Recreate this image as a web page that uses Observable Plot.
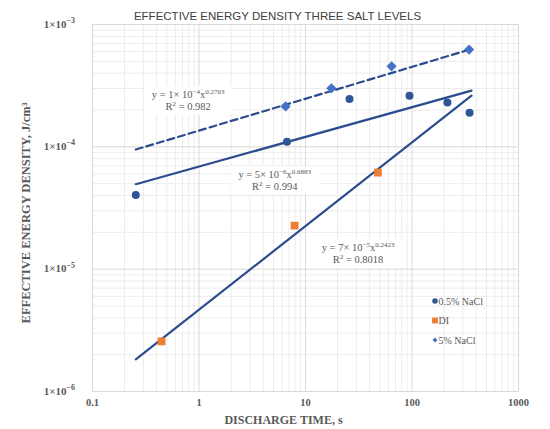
<!DOCTYPE html>
<html><head><meta charset="utf-8">
<script src="https://cdn.jsdelivr.net/npm/d3@7"></script>
<script src="https://cdn.jsdelivr.net/npm/@observablehq/plot@0.6"></script>
<style>body{margin:0;background:#fff;} svg{display:block}</style>
</head><body><div id="chart"></div>
<script>
// ---- text ----
const title = "EFFECTIVE ENERGY DENSITY THREE SALT LEVELS";
const xLabel = "DISCHARGE TIME, s";
const yLabel = "EFFECTIVE ENERGY DENSITY, J/cm³";
const xTicks = [0.1, 1, 10, 100, 1000];
const xTickLabels = ["0.1", "1", "10", "100", "1000"];
const yTicks = [1e-6, 1e-5, 1e-4, 1e-3];
const yTickBase = ["1×10", "1×10", "1×10", "1×10"];
const yTickExp = ["−6", "−5", "−4", "−3"];
const seriesNames = ["0.5% NaCl", "DI", "5% NaCl"];

// ---- data ----
const lowTime = [0.255, 6.7, 25.9, 94.8, 215, 347];
const lowEnergy = [4.04e-5, 1.10e-4, 2.46e-4, 2.62e-4, 2.30e-4, 1.90e-4];
const diTime = [0.445, 7.9, 47.8];
const diEnergy = [2.57e-6, 2.27e-5, 6.16e-5];
const highTime = [6.5, 17.5, 64.3, 344];
const highEnergy = [2.14e-4, 3.01e-4, 4.55e-4, 6.24e-4];

// trend line endpoints
const fitTime = [0.255, 362];
const fitLow = [4.95e-5, 2.88e-4];
const fitDI = [1.83e-6, 2.62e-4];
const fitHigh = [9.5e-5, 6.3e-4];

// trendline equations
const eqCoef = ["1", "5", "7"];
const eqExp = ["−4", "−6", "−5"];
const eqPow = ["0.2703", "0.6883", "0.2423"];
const eqR2 = ["0.982", "0.994", "0.8018"];
const eqAtTime = [0.80, 5.2, 31.5];
const eqAtEnergy = [2.38e-4, 5.3e-5, 1.33e-5];

const navy = "#2b4d8e";
const cLow = "#2f5597";
const cDI = "#ed7d31";
const cHigh = "#4472c4";
const txt = "#595959";
const serif = "'Liberation Serif', 'DejaVu Serif', serif";

const toRows = (t, v) => t.map((d, i) => ({t: d, v: v[i]}));
const low = toRows(lowTime, lowEnergy);
const di = toRows(diTime, diEnergy);
const high = toRows(highTime, highEnergy);

const minorX = xTicks.slice(0, -1).flatMap(d => d3.range(2, 10).map(k => d * k));
const minorY = yTicks.slice(0, -1).flatMap(d => d3.range(2, 10).map(k => d * k));

function yTickText(index, {y}, values, dims) {
  const g = d3.create("svg:g")
    .attr("font-family", serif).attr("font-weight", "bold")
    .attr("fill", txt).attr("text-anchor", "end");
  yTicks.forEach((v, i) => {
    const t = g.append("text").attr("x", dims.marginLeft - 17).attr("y", y(v)).attr("dy", "0.32em").attr("font-size", 11);
    t.append("tspan").text(yTickBase[i]);
    t.append("tspan").attr("font-size", 8).attr("dy", "-0.55em").text(yTickExp[i]);
  });
  return g.node();
}

function equations(index, {x, y}) {
  const g = d3.create("svg:g")
    .attr("font-family", serif)
    .attr("font-size", 10.5)
    .attr("fill", txt);
  eqCoef.forEach((c, i) => {
    const cx = x(eqAtTime[i]), cy = y(eqAtEnergy[i]);
    g.append("rect").attr("x", cx - 44).attr("y", cy - 14).attr("width", 88).attr("height", 28).attr("fill", "#fff");
    const t1 = g.append("text").attr("x", cx).attr("y", cy - 2.5).attr("text-anchor", "middle");
    t1.append("tspan").text(`y = ${c}× 10`);
    t1.append("tspan").attr("font-size", 7).attr("dy", -4).text(eqExp[i]);
    t1.append("tspan").attr("dy", 4).text("x");
    t1.append("tspan").attr("font-size", 7).attr("dy", -4).text(eqPow[i]);
    const t2 = g.append("text").attr("x", cx).attr("y", cy + 9.5).attr("text-anchor", "middle");
    t2.append("tspan").text("R");
    t2.append("tspan").attr("font-size", 7).attr("dy", -4).text("2");
    t2.append("tspan").attr("dy", 4).text(` = ${eqR2[i]}`);
  });
  return g.node();
}

function legend() {
  const g = d3.create("svg:g")
    .attr("font-family", serif)
    .attr("font-size", 10)
    .attr("fill", txt)
    .attr("text-anchor", "start");
  const sym = [d3.symbolCircle, d3.symbolSquare, d3.symbolDiamond2];
  const sizes = [24, 34, 16];
  const cols = [cLow, cDI, cHigh];
  seriesNames.forEach((name, i) => {
    const yy = 301 + i * 19.5;
    g.append("path").attr("d", d3.symbol(sym[i], sizes[i])()).attr("transform", `translate(435,${yy})`).attr("fill", cols[i]);
    g.append("text").attr("x", 438.5).attr("y", yy).attr("dy", "0.35em").text(name);
  });
  return g.node();
}

const chart = Plot.plot({
  width: 550, height: 429,
  marginLeft: 92, marginRight: 32, marginTop: 24, marginBottom: 38,
  style: {fontFamily: serif, fontSize: "10px", color: txt, background: "#fff"},
  x: {type: "log", domain: [0.1, 1000]},
  y: {type: "log", domain: [1e-6, 1e-3]},
  marks: [
    Plot.gridX(minorX, {stroke: "#ececec", strokeOpacity: 1}),
    Plot.gridY(minorY, {stroke: "#ececec", strokeOpacity: 1}),
    Plot.gridX(xTicks, {stroke: "#d9d9d9", strokeOpacity: 1}),
    Plot.gridY(yTicks, {stroke: "#d9d9d9", strokeOpacity: 1}),
    Plot.frame({stroke: "#d9d9d9"}),
    Plot.axisX({ticks: xTicks, tickFormat: d => xTickLabels[xTicks.indexOf(d)], tickSize: 0, tickPadding: 7, label: null, fontWeight: "bold", fontSize: 10.5, fill: txt}),
    Plot.axisY({ticks: yTicks, tickFormat: () => "", tickSize: 0, label: null}),
    yTickText,
    equations,
    Plot.line(toRows(fitTime, fitHigh), {x: "t", y: "v", stroke: navy, strokeWidth: 2.2, strokeDasharray: "7,4"}),
    Plot.line(toRows(fitTime, fitLow), {x: "t", y: "v", stroke: navy, strokeWidth: 2.2}),
    Plot.line(toRows(fitTime, fitDI), {x: "t", y: "v", stroke: navy, strokeWidth: 2.2}),
    Plot.dot(low, {x: "t", y: "v", r: 4, fill: cLow, symbol: "circle"}),
    Plot.dot(di, {x: "t", y: "v", r: 4.4, fill: cDI, symbol: "square"}),
    Plot.dot(high, {x: "t", y: "v", r: 4.6, fill: cHigh, symbol: "diamond2"}),
    legend,
    Plot.text([title], {frameAnchor: "top", dy: -13, dx: -28, text: d => d, textAnchor: "middle", fontFamily: "'Liberation Sans', sans-serif", fontSize: 11.5, fill: "#404040"}),
    Plot.text([xLabel], {frameAnchor: "bottom", dy: 32, dx: -22, text: d => d, textAnchor: "middle", fontWeight: "bold", fontSize: 12, fill: txt}),
    Plot.text([yLabel], {frameAnchor: "left", dx: -67, dy: 5, rotate: -90, text: d => d, textAnchor: "middle", fontWeight: "bold", fontSize: 12.5, fill: txt})
  ]
});
document.getElementById("chart").append(chart);
</script>
</body></html>
